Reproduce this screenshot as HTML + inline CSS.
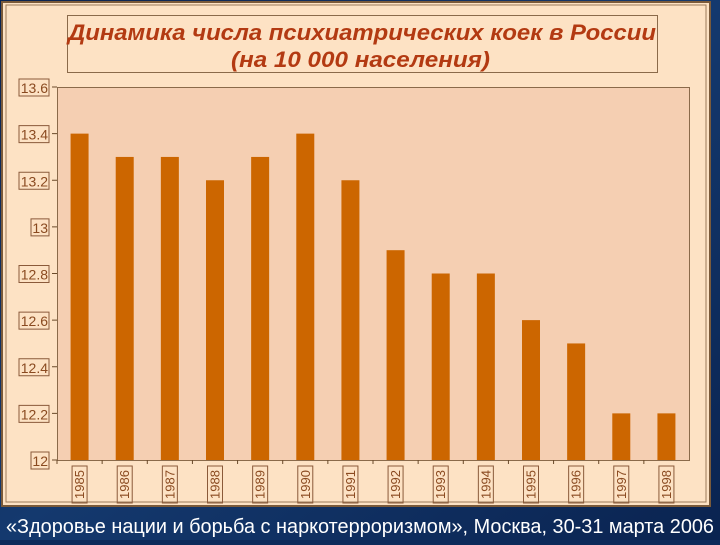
<!DOCTYPE html>
<html><head><meta charset="utf-8"><style>
body{margin:0;width:720px;height:540px;overflow:hidden;background:#0d2a5a;font-family:"Liberation Sans",sans-serif}
</style></head><body>
<svg width="720" height="540">
<defs><linearGradient id="bg" x1="0" y1="0" x2="1" y2="1"><stop offset="0" stop-color="#0a2350"/><stop offset="0.5" stop-color="#14396e"/><stop offset="1" stop-color="#0a2350"/></linearGradient></defs>
<rect x="0" y="0" width="720" height="540" fill="url(#bg)"/>
<rect x="2" y="2" width="708" height="504" fill="#fde2c4" stroke="#7a5a3a" stroke-width="2"/>
<rect x="6" y="5" width="700" height="497" fill="none" stroke="#9a7a5a" stroke-width="1"/>
<rect x="67.5" y="15.5" width="590" height="57" fill="none" stroke="#8a6a4a"/>
<text x="68" y="40" textLength="588" lengthAdjust="spacingAndGlyphs" font-size="22" font-weight="bold" font-style="italic" fill="#b33a12">Динамика числа психиатрических коек в России</text>
<text x="231" y="67" textLength="259" lengthAdjust="spacingAndGlyphs" font-size="22" font-weight="bold" font-style="italic" fill="#b33a12">(на 10 000 населения)</text>
<rect x="57.5" y="87.5" width="632" height="373" fill="#f5cfb2" stroke="#8a6a4a"/>
<g id="g"></g>
<text x="6" y="533" textLength="708" lengthAdjust="spacingAndGlyphs" font-size="20" fill="#ffffff">«Здоровье нации и борьба с наркотерроризмом», Москва, 30-31 марта 2006</text>
</svg>
<script>
const categories=["1985","1986","1987","1988","1989","1990","1991","1992","1993","1994","1995","1996","1997","1998"];
const values=[13.4,13.3,13.3,13.2,13.3,13.4,13.2,12.9,12.8,12.8,12.6,12.5,12.2,12.2];
const yTicks=["12","12.2","12.4","12.6","12.8","13","13.2","13.4","13.6"];
const L=57,R=689,T=87,B=460,ymin=12,ymax=13.6;
const y=v=>B-(v-ymin)/(ymax-ymin)*(B-T);
const bw=(R-L)/categories.length;
const x=i=>L+bw*(i+0.5);
const g=document.getElementById('g');const NS='http://www.w3.org/2000/svg';
function mk(t,a){const e=document.createElementNS(NS,t);for(const k in a)e.setAttribute(k,a[k]);g.appendChild(e);return e;}
yTicks.forEach(t=>{const v=parseFloat(t),yy=y(v);
 const l=mk('line',{x1:L-5,x2:L,y1:yy,y2:yy,stroke:'#6a4a2a'});
 
 const w=t.replace('.','').length*8+(t.includes('.')?4:0)+2;
 const r=mk('rect',{x:L-8-w,y:yy-8,width:w,height:17,fill:'none',stroke:'#8a5a3a'});
 
 const tx=mk('text',{x:L-9,y:yy+6,'text-anchor':'end','font-size':14,fill:'#8a4a20'});tx.textContent=t;
 
});
categories.forEach((c,i)=>{const cx=x(i);
 const b=mk('rect',{x:cx-9,y:y(values[i]),width:18,height:B-y(values[i]),fill:'#cc6600'});
 
 const tk=mk('line',{x1:L+bw*i,x2:L+bw*i,y1:B,y2:B+4,stroke:'#6a4a2a'});
 
 const r=mk('rect',{x:cx-7.5,y:466,width:15,height:37,fill:'none',stroke:'#8a5a3a'});
 
 const t=mk('text',{x:0,y:0,transform:`translate(${cx+4.5},484.5) rotate(-90)`,'text-anchor':'middle','font-size':13,fill:'#8a4a20'});t.textContent=c;
 
});
</script>
</body></html>
